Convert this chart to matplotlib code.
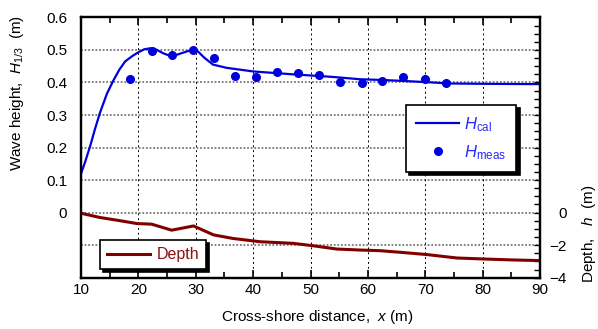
import matplotlib
matplotlib.use('Agg')
import matplotlib.pyplot as plt
from matplotlib.ticker import MultipleLocator, FixedLocator, FuncFormatter
from matplotlib.lines import Line2D

plt.rcParams['font.family'] = 'Liberation Sans'
plt.rcParams['mathtext.fontset'] = 'custom'
plt.rcParams['mathtext.rm'] = 'Liberation Sans'
plt.rcParams['mathtext.it'] = 'Liberation Sans:italic'

# calculated wave height H_cal (m)
x_cal = [10.0, 10.7, 11.6, 12.4, 13.3, 14.5, 15.6, 16.7, 17.7, 19.0, 20.0, 21.0,
         22.0, 22.9, 24.3, 25.8, 27.5, 29.6, 30.4, 31.5, 33.0, 35.4, 40.0, 47.0,
         54.0, 58.6, 62.0, 66.0, 70.3, 74.3, 80.0, 90.0]
h_cal = [0.12, 0.155, 0.205, 0.255, 0.307, 0.365, 0.405, 0.44, 0.465, 0.482, 0.493, 0.502,
         0.505, 0.503, 0.49, 0.48, 0.49, 0.502, 0.495, 0.476, 0.455, 0.445, 0.434, 0.425,
         0.417, 0.410, 0.408, 0.405, 0.401, 0.397, 0.396, 0.395]

# measured wave height H_meas (m)
x_meas = [18.5, 22.3, 25.9, 29.6, 33.2, 36.9, 40.5, 44.2, 47.9, 51.5, 55.2, 58.9,
          62.5, 66.2, 69.9, 73.6]
h_meas = [0.411, 0.497, 0.484, 0.499, 0.474, 0.419, 0.417, 0.431, 0.430, 0.423, 0.403, 0.398,
          0.404, 0.416, 0.411, 0.397]

# water depth h (m)
x_depth = [10.0, 13.3, 16.5, 19.7, 22.3, 25.8, 29.6, 33.1, 36.5, 41.2, 47.0, 50.5,
           54.6, 58.6, 62.1, 66.0, 70.3, 75.5, 80.1, 85.3, 90.0]
depth = [-0.04, -0.3, -0.48, -0.67, -0.71, -1.08, -0.82, -1.37, -1.59, -1.79, -1.89, -2.04,
         -2.24, -2.30, -2.34, -2.45, -2.58, -2.79, -2.85, -2.91, -2.95]

left_ticks = [0, 0.1, 0.2, 0.3, 0.4, 0.5, 0.6]
right_ticks = [0, -2, -4]

blue = '#0000dd'
red = '#800000'

fig = plt.figure(figsize=(5.98, 3.29), dpi=100)
ax = fig.add_axes([0.1355, 0.156, 0.7676, 0.791])
ax2 = ax.twinx()

ax.plot(x_cal, h_cal, color=blue, lw=1.6, zorder=3)
ax.plot(x_meas, h_meas, 'o', color=blue, ms=5.5, zorder=4)
ax2.plot(x_depth, depth, color=red, lw=2.2)

ax.set_xlim(10, 90)
ax.set_ylim(-0.2, 0.6)
ax2.set_ylim(-4, 12)

# grid
for yv in [-0.1, 0, 0.1, 0.2, 0.3, 0.4, 0.5]:
    ax.axhline(yv, color='#777777', lw=1.3, ls=(0, (1, 1)), zorder=1)
for xv in range(20, 90, 10):
    ax.axvline(xv, color='black', lw=0.7, ls=(0, (2, 3)), zorder=1)

ax.xaxis.set_major_locator(MultipleLocator(10))
ax.xaxis.set_minor_locator(MultipleLocator(5))
ax.tick_params(axis='x', which='major', direction='in', length=6, width=1.2,
               top=True, labelsize=11, pad=4)
ax.tick_params(axis='x', which='minor', direction='in', length=4, width=1.2, top=True)
ax.yaxis.set_major_locator(FixedLocator(left_ticks))
ax.yaxis.set_major_formatter(FuncFormatter(lambda v, p: '0' if abs(v) < 1e-9 else f'{v:.1f}'))
ax.tick_params(axis='y', which='both', length=0, labelsize=11, pad=10)

ax2.yaxis.set_major_locator(FixedLocator(right_ticks))
ax2.yaxis.set_minor_locator(MultipleLocator(0.5))
ax2.tick_params(axis='y', which='both', direction='in', length=4.5, width=1.0,
                labelsize=11, pad=19)
for lab in ax2.get_yticklabels():
    lab.set_ha('right')

for a in (ax, ax2):
    for s in a.spines.values():
        s.set_linewidth(1.6)

fig.text(0.028, 0.717, r'Wave height,  $H_{1/3}$  (m)', rotation=90,
         ha='center', va='center', fontsize=11)
fig.text(0.985, 0.289, r'Depth,   $h$  (m)', rotation=90,
         ha='center', va='center', fontsize=11)
fig.text(0.53, 0.036, r'Cross-shore distance,  $x$ (m)',
         ha='center', va='center', fontsize=11)

shadow = {'color': 'black', 'alpha': 1, 'ox': 2.2, 'oy': -2.2}
h_handles = [Line2D([], [], color=blue, lw=1.6),
             Line2D([], [], ls='none', marker='o', color=blue, ms=5.5)]
leg1 = ax2.legend(h_handles, [r'$H_{\rm cal}$', r'$H_{\rm meas}$'], loc='upper left',
                  bbox_to_anchor=(0.708, 0.663), borderaxespad=0, fancybox=False,
                  shadow=shadow, framealpha=1, edgecolor='black', fontsize=12,
                  labelcolor='#2a2aff', handlelength=2.6, handletextpad=0.3,
                  labelspacing=0.55, borderpad=0.6)
leg1.get_frame().set_linewidth(1.2)
ax2.add_artist(leg1)
leg2 = ax2.legend([Line2D([], [], color=red, lw=2.2)], ['Depth'], loc='upper left',
                  bbox_to_anchor=(0.041, 0.145), borderaxespad=0, fancybox=False,
                  shadow=shadow, framealpha=1, edgecolor='black', fontsize=11.5,
                  labelcolor='#8b1010', handlelength=2.7, handletextpad=0.4,
                  borderpad=0.45)
leg2.get_frame().set_linewidth(1.2)

fig.savefig('out.png', dpi=100)
